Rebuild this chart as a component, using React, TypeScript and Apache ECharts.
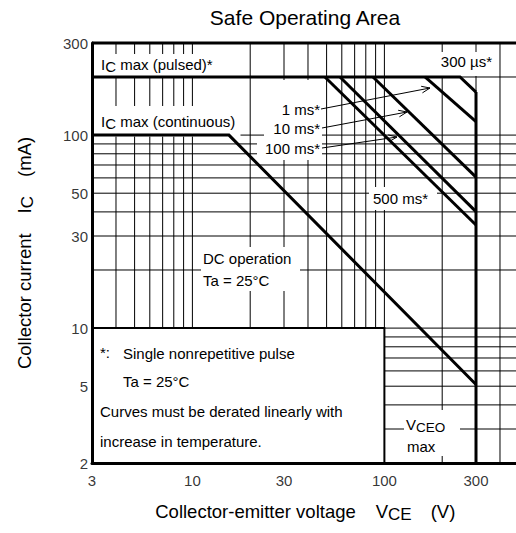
import React, { useEffect, useRef } from "react";
import * as echarts from "echarts";

// ---------- data ----------
const xGridValues = [3, 4, 5, 6, 7, 8, 9, 10, 20, 30, 40, 50, 60, 70, 80, 90, 100, 200, 300, 400];
const yGridValues = [2, 3, 4, 5, 6, 7, 8, 9, 10, 20, 30, 40, 50, 60, 70, 80, 90, 100, 200, 300];
const xTickLabels = [3, 10, 30, 100, 300];
const yTickLabels = [2, 5, 10, 30, 50, 100, 300];

// SOA boundaries: [V_CE (V), I_C (mA)]
const pulsedMax300us = [[3, 200], [247.6, 200], [300, 167]];
const vceoMax = [[300, 167], [300, 2]];
const dcOperation = [[3, 100], [15.5, 100], [300, 5.1]];
const pulse1ms = [[162.7, 200], [300, 117.3]];
const pulse10ms = [[87.2, 200], [300, 60.6]];
const pulse100ms = [[58.7, 200], [300, 40.1]];
const pulse500ms = [[49, 200], [300, 34.2]];
const noteBoxBorder = [[3, 10], [100, 10], [100, 2]];
const topBorder = [[3, 300], [500, 300]];

const X_MIN = 3, X_MAX = 500, Y_MIN = 2, Y_MAX = 300;

const FONT = '"Liberation Sans", Arial, Helvetica, sans-serif';

export default function App() {
  const ref = useRef<HTMLDivElement>(null);

  useEffect(() => {
    const el = ref.current!;
    const chart = echarts.init(el, undefined, { renderer: "svg" });

    const gridLine = (data: number[][], width = 1) => ({
      type: "line",
      data,
      symbol: "none",
      silent: true,
      clip: false,
      z: 1,
      lineStyle: { color: "#000", width },
    });
    const curve = (name: string, data: number[][], width = 3, z = 5) => ({
      type: "line",
      name,
      data,
      symbol: "none",
      silent: true,
      clip: false,
      z,
      lineStyle: { color: "#000", width, join: "miter", cap: "butt" },
    });

    const series: any[] = [
      ...xGridValues.map((v) => gridLine([[v, Y_MIN], [v, Y_MAX]])),
      ...yGridValues.map((v) => gridLine([[X_MIN, v], [X_MAX, v]])),
      curve("note border", noteBoxBorder, 2, 4),
      curve("top", topBorder, 3, 6),
      curve("IC max (pulsed) / 300 µs", pulsedMax300us),
      curve("VCEO max", vceoMax),
      curve("DC operation", dcOperation),
      curve("1 ms", pulse1ms),
      curve("10 ms", pulse10ms),
      curve("100 ms", pulse100ms),
      curve("500 ms", pulse500ms),
      {
        type: "scatter",
        data: xTickLabels.map((v) => [v, Y_MIN]),
        symbolSize: 0,
        silent: true,
        clip: false,
        z: 10,
        itemStyle: { color: "transparent" },
        label: {
          show: true,
          position: "bottom",
          distance: 10,
          formatter: (p: any) => String(p.value[0]),
          fontSize: 15,
          fontFamily: FONT,
          color: "#000",
        },
      },
      {
        type: "scatter",
        data: yTickLabels.map((v) => [X_MIN, v]),
        symbolSize: 0,
        silent: true,
        clip: false,
        z: 10,
        itemStyle: { color: "transparent" },
        label: {
          show: true,
          position: "left",
          distance: 4,
          formatter: (p: any) => String(p.value[1]),
          fontSize: 15,
          fontFamily: FONT,
          color: "#000",
        },
      },
    ];

    const axisNameRich = {
      n: { fontSize: 18.5, fontFamily: FONT, color: "#000" },
      i: { fontSize: 18.5, fontFamily: FONT, color: "#000", padding: [0, 0, 0, 20] },
      s: { fontSize: 17, fontFamily: FONT, color: "#000", padding: [7, 0, 0, 0] },
      u: { fontSize: 18.5, fontFamily: FONT, color: "#000", padding: [0, 0, 0, 19] },
    };

    const option: any = {
      animation: false,
      backgroundColor: "#fff",
      grid: { left: 92, top: 43, right: 540 - 518.6, bottom: 70, containLabel: false, outerBoundsMode: "none" },
      xAxis: {
        type: "log",
        logBase: 10,
        min: X_MIN,
        max: X_MAX,
        z: 10,
        axisLine: { show: true, lineStyle: { color: "#000", width: 3 } },
        axisTick: { show: false },
        axisLabel: { show: false },
        splitLine: { show: false },
        minorSplitLine: { show: false },
        name: "{n|Collector-emitter voltage}{i|V}{s|CE}{u|(V)}",
        nameLocation: "middle",
        nameGap: 36,
        nameTextStyle: { rich: axisNameRich },
      },
      yAxis: {
        type: "log",
        logBase: 10,
        min: Y_MIN,
        max: Y_MAX,
        z: 10,
        axisLine: { show: true, lineStyle: { color: "#000", width: 3 } },
        axisTick: { show: false },
        axisLabel: { show: false },
        splitLine: { show: false },
        minorSplitLine: { show: false },
        name: "{n|Collector current}{i|I}{s|C}{u|(mA)}",
        nameLocation: "middle",
        nameGap: 56,
        nameTextStyle: { rich: axisNameRich },
      },
      series,
    };

    chart.setOption(option);

    // ---------- annotation layout (pixels) ----------
    const p1 = chart.convertToPixel({ gridIndex: 0 } as any, [3, 10]) as number[];
    const p2 = chart.convertToPixel({ gridIndex: 0 } as any, [100, 2]) as number[];

    const box = (x: number, y: number, w: number, h: number) => ({
      type: "rect",
      z: 3,
      silent: true,
      shape: { x, y, width: w, height: h },
      style: { fill: "#fff", stroke: null },
    });
    const font = (s: number) => `${s}px ${FONT}`;
    const txt = (x: number, y: number, text: string, align = "left", size = 15, rich?: any) => ({
      type: "text",
      x,
      y,
      z: 8,
      silent: true,
      style: {
        text,
        font: font(size),
        fill: "#000",
        align,
        verticalAlign: "middle",
        textAlign: align,
        textVerticalAlign: "middle",
        rich,
      },
    });
    const subRich = {
      a: { font: font(15), fill: "#000" },
      s: { font: font(15), fill: "#000", padding: [5, 0, 0, 0] },
      b: { font: font(15), fill: "#000" },
    };
    const subRichSmall = {
      a: { font: font(15), fill: "#000" },
      s: { font: font(13.5), fill: "#000", padding: [6, 0, 0, 0] },
    };
    const arrow = (x1: number, y1: number, x2: number, y2: number) => {
      const ang = Math.atan2(y2 - y1, x2 - x1);
      const L = 9, a = 0.38;
      const h1 = [x2 - L * Math.cos(ang - a), y2 - L * Math.sin(ang - a)];
      const h2 = [x2 - L * Math.cos(ang + a), y2 - L * Math.sin(ang + a)];
      return [
        { type: "line", z: 7, silent: true, shape: { x1, y1, x2, y2 }, style: { stroke: "#000", lineWidth: 1 } },
        { type: "polyline", z: 7, silent: true, shape: { points: [h1, [x2, y2], h2] }, style: { stroke: "#000", lineWidth: 1, fill: null } },
      ];
    };

    const graphic: any[] = [
      // white label boxes hiding the grid
      box(93.5, 54, 131, 22.5),
      box(93.5, 106, 147, 30.5),
      box(268, 80, 54, 39),
      box(264, 119, 58, 20),
      box(257, 139, 65, 21),
      box(432, 52, 64, 24),
      box(369, 187, 68, 23),
      box(201, 247, 99, 44),
      box(404, 410, 56, 46),
      box(p1[0], p1[1], p2[0] - p1[0], p2[1] - p1[1]),
      // texts
      txt(305, 17, "Safe Operating Area", "center", 21),
      txt(101, 64, "{a|I}{s|C}{b| max (pulsed)*}", "left", 15, subRich),
      txt(101, 121, "{a|I}{s|C}{b| max (continuous)}", "left", 15, subRich),
      txt(320, 109, "1 ms*", "right"),
      txt(320, 128, "10 ms*", "right"),
      txt(320, 148, "100 ms*", "right"),
      txt(492, 61, "300 µs*", "right"),
      txt(373, 198, "500 ms*"),
      txt(203, 258, "DC operation"),
      txt(203, 280, "Ta = 25°C"),
      txt(100, 352, "*:"),
      txt(123, 353, "Single nonrepetitive pulse"),
      txt(123, 381, "Ta = 25°C"),
      txt(100, 411, "Curves must be derated linearly with"),
      txt(100, 441, "increase in temperature."),
      txt(406, 424, "{a|V}{s|CEO}", "left", 15, subRichSmall),
      txt(407, 446, "max"),
      ...arrow(321, 109, 430, 88),
      ...arrow(322, 128, 407, 112),
      ...arrow(322, 148, 397, 137),
    ];

    chart.setOption({ graphic });

    return () => chart.dispose();
  }, []);

  return (
    <div
      style={{
        position: "fixed",
        left: 0,
        top: 0,
        width: 516,
        height: 533,
        overflow: "hidden",
        background: "#fff",
      }}
    >
      <div ref={ref} style={{ width: 540, height: 533 }} />
    </div>
  );
}
